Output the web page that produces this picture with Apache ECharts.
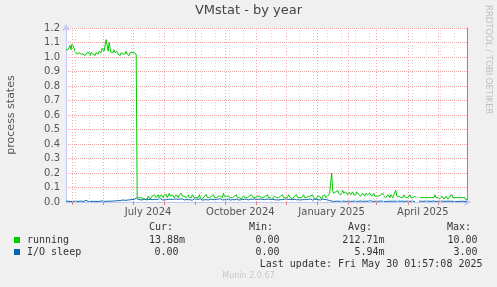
<!DOCTYPE html>
<html><head><meta charset="utf-8">
<script src="https://cdn.jsdelivr.net/npm/echarts@6/dist/echarts.min.js"></script>
<style>html,body{margin:0;padding:0;background:#f0f0f0;}#c{width:497px;height:287px;}</style>
</head><body><div id="c"></div>
<script>
// ---------- data ----------
const rangeStart = '2024-04-25T01:57:08';
const rangeEnd = '2025-05-30T01:57:08';
const sampleStepDays = 1; // one sample per day from rangeStart

// running (process states), one value per day
const runningValues = [
  1.05,1.04,1.05,1.04,1.08,1.05,1.09,1.08,1.06,1.04,
  1.03,1.02,1.02,1.03,1.02,1.02,1.01,1.02,1.02,1.01,
  1.02,1.03,1.02,1.03,1.01,1.03,1.04,1.02,1.03,1.01,
  1.03,1.04,1.02,1.04,1.05,1.03,1.06,1.07,1.04,1.05,
  1.12,1.08,1.04,1.10,1.06,1.03,1.02,1.03,1.05,1.03,
  1.02,1.04,1.02,1.03,1.01,1.03,1.04,1.02,1.03,1.02,
  1.04,1.02,1.03,1.01,1.03,1.02,1.03,1.02,1.03,1.02,
  1.02,
  .03,.02,.03,.02,.03,.04,.02,.03,.02,.03,
  .02,.04,.03,.02,.03,.04,.03,.05,.04,.03,
  .04,.05,.03,.04,.05,.04,.03,.05,.04,.05,
  .03,.04,.06,.04,.03,.05,.04,.03,.04,.05,
  .04,.03,.05,.04,.06,.04,.03,.04,.05,.03,
  .04,.05,.03,.04,.03,.05,.04,.03,.04,.03,
  .04,.03,.05,.03,.04,.02,.03,.04,.03,.05,
  .03,.04,.03,.02,.04,.03,.05,.03,.04,.03,
  .02,.04,.03,.04,.05,.03,.06,.04,.03,.04,
  .03,.04,.05,.03,.04,.03,.02,.04,.03,.05,
  .03,.04,.03,.04,.02,.03,.04,.05,.03,.04,
  .03,.02,.04,.03,.05,.04,.03,.04,.03,.02,
  .04,.03,.04,.05,.03,.04,.03,.02,.04,.03,
  .05,.03,.04,.03,.04,.02,.03,.04,.05,.03,
  .04,.03,.02,.04,.03,.05,.03,.04,.03,.04,
  .03,.05,.04,.03,.04,.02,.03,.04,.03,.05,
  .03,.04,.03,.02,.03,.04,.05,.03,.04,.03,
  .02,.04,.03,.04,.03,.05,.03,.04,.02,.03,
  .04,.03,.04,.03,.02,.04,.03,.05,.03,.04,
  .04,.05,.06,.07,.20,.08,.06,.05,.07,.06,
  .08,.06,.07,.05,.06,.08,.06,.05,.07,.06,
  .05,.07,.06,.05,.06,.07,.05,.06,.05,.07,
  .06,.05,.06,.04,.05,.06,.05,.04,.06,.05,
  .05,.04,.06,.05,.04,.05,.06,.04,.05,.04,
  .05,.04,.03,.05,.04,.06,.04,.05,.03,.04,
  .05,.04,.03,.05,.04,.03,.05,.04,.08,.04,
  .03,.04,.05,.03,.04,.03,.05,.04,.03,.04,
  .03,.04,.05,.03,.04,.03,.02,.04,.03,null,
  null,null,.03,.04,.03,.02,.03,.04,.03,.02,
  .03,.04,.03,.02,.03,.04,.03,.05,.03,.02,
  .03,.04,.02,.03,.04,.03,.02,.03,.04,.03,
  .02,.03,.04,.03,.05,.03,.02,.03,.04,.03,
  .02,.03,.04,.03,.02,.03,.04,.03,.02,.014
];

// I/O sleep, one value per day
const ioSleepValues = [
  .005,.004,.006,.005,.003,.005,.004,.006,.005,.004,
  .005,.003,.004,.005,.006,.004,.005,.003,.004,.005,
  .012,.006,.004,.005,.003,.004,.005,.006,.004,.005,
  .004,.005,.003,.006,.005,.004,.008,.005,.004,.006,
  .005,.004,.006,.009,.005,.004,.006,.005,.007,.006,
  .008,.006,.01,.012,.008,.01,.014,.01,.012,.016,
  .012,.018,.014,.02,.015,.012,.018,.022,.016,.02,
  .028,.022,.018,.02,.016,.019,.014,.018,.022,.017,
  .015,.02,.017,.013,.018,.021,.016,.014,.019,.022,
  .017,.013,.02,.016,.024,.018,.015,.019,.014,.02,
  .016,.022,.018,.014,.019,.023,.017,.015,.02,.016,
  .021,.015,.018,.013,.02,.017,.022,.016,.014,.019,
  .018,.024,.016,.02,.015,.019,.013,.018,.021,.016,
  .02,.014,.018,.016,.022,.017,.013,.019,.015,.021,
  .016,.019,.014,.018,.02,.015,.017,.022,.016,.013,
  .018,.015,.02,.016,.023,.017,.014,.019,.016,.02,
  .015,.018,.021,.016,.013,.019,.017,.022,.015,.018,
  .02,.016,.014,.018,.015,.021,.017,.013,.019,.016,
  .018,.022,.015,.017,.02,.014,.018,.016,.021,.015,
  .017,.013,.019,.016,.02,.015,.018,.022,.016,.014,
  .019,.016,.02,.015,.017,.013,.018,.021,.016,.019,
  .015,.018,.014,.02,.016,.022,.017,.015,.019,.016,
  .02,.015,.018,.013,.017,.021,.016,.014,.019,.017,
  .015,.019,.016,.02,.014,.018,.016,.013,.017,.02,
  .016,.014,.018,.015,.021,.017,.013,.016,.019,.015,
  .017,.02,.015,.018,.014,.016,.019,.015,.017,.013,
  .016,.014,.012,.01,.008,.006,.005,.006,.004,.005,
  .006,.004,.005,.007,.004,.005,.006,.004,.005,.006,
  .004,.005,.007,.005,.004,.006,.005,.004,.006,.005,
  .004,.006,.005,.004,.007,.005,.004,.005,.006,.004,
  .005,.004,.006,.005,.008,.005,.004,.006,.005,.004,
  .006,.005,.004,.005,.007,.004,.005,.006,.004,.005,
  .004,.006,.005,.004,.005,.007,.005,.004,.006,.005,
  .004,.005,.006,.004,.005,.004,.006,.005,.004,.005,
  .006,.004,.005,.007,.005,.004,.005,.006,.004,null,
  null,null,.005,.004,.006,.005,.004,.005,.006,.004,
  .005,.004,.006,.005,.004,.005,.007,.004,.005,.006,
  .004,.005,.006,.004,.005,.004,.006,.005,.004,.005,
  .006,.004,.005,.004,.006,.005,.004,.005,.004,.006,
  .004,.005,.004,.006,.005,.004,.005,.004,.003,.004,0
];

// axis: month starts (major grid), bi-weekly minor grid, month labels
const monthStarts = ['2024-05-01','2024-06-01','2024-07-01','2024-08-01','2024-09-01','2024-10-01',
  '2024-11-01','2024-12-01','2025-01-01','2025-02-01','2025-03-01','2025-04-01','2025-05-01'];
const minorGridStart = '2024-05-04';
const minorGridStepDays = 14;
const tickLabelDates = ['2024-07-16','2024-10-16','2025-01-15','2025-04-16'];
const tickLabels = ['July 2024','October 2024','January 2025','April 2025'];
const yTicks = ['0.0','0.1','0.2','0.3','0.4','0.5','0.6','0.7','0.8','0.9','1.0','1.1','1.2'];

// legend table
const seriesNames = ['running','I/O sleep'];
const curValues = ['13.88m','0.00'];
const minValues = ['0.00','0.00'];
const avgValues = ['212.71m','5.94m'];
const maxValues = ['10.00','3.00'];
const lastUpdate = 'Last update: Fri May 30 01:57:08 2025';

// ---------- build ----------
const DAY = 86400000;
const t0 = new Date(rangeStart).getTime();
const t1 = new Date(rangeEnd).getTime();
const d = s => new Date(s + 'T00:00:00').getTime();
const toPairs = arr => arr.map((v, i) => [t0 + i * sampleStepDays * DAY, v]);

const minorDates = [];
for (let t = d(minorGridStart); t < t1; t += minorGridStepDays * DAY) {
  const ok = !monthStarts.some(m => Math.abs(d(m) - t) < 2 * DAY);
  if (ok) minorDates.push(t);
}
const labelMap = {};
tickLabelDates.forEach((s, i) => { labelMap[d(s)] = tickLabels[i]; });

const GREEN = '#00cc00', BLUE = '#0066b3';
const MAJ = '#eca4a4', MIN = '#d8d8d8';
const AXIS = '#c4c8f4';
const FONT = 'DejaVu Sans';

const chart = echarts.init(document.getElementById('c'), null, {renderer: 'canvas'});

const graphics = [];
graphics.push({type:'text', left:'center', top: 4, style:{text:'VMstat - by year', font:'13px "DejaVu Sans"', fill:'#444'}});
graphics.push({type:'text', x: 6, y: 115, rotation: Math.PI/2, style:{text:'process states', font:'11px "DejaVu Sans"', fill:'#555', align:'center', verticalAlign:'top'}});
graphics.push({type:'text', x: 493, y: 5, rotation: -Math.PI/2, style:{text:'RRDTOOL / TOBI OETIKER', font:'8.5px "DejaVu Sans"', fill:'#c0c0c0', align:'left', verticalAlign:'top'}});
const hdr = [['Cur:',149],['Min:',249],['Avg:',348],['Max:',447]];
hdr.forEach(h => graphics.push({type:'text', x:h[1], y:227.5, style:{text:h[0], font:'10px "DejaVu Sans Mono"', fill:'#333', verticalAlign:'middle'}}));
const colors = [GREEN, BLUE];
seriesNames.forEach((n, i) => {
  const y = 240 + i * 12;
  graphics.push({type:'rect', shape:{x:14, y:y-3, width:6, height:6}, style:{fill:colors[i]}});
  graphics.push({type:'text', x:27, y:y, style:{text:n, font:'10px "DejaVu Sans Mono"', fill:'#333', verticalAlign:'middle'}});
  graphics.push({type:'text', x:i===0?185:178.5, y:y, style:{text:curValues[i], font:'10px "DejaVu Sans Mono"', fill:'#333', verticalAlign:'middle', align:'right'}});
  graphics.push({type:'text', x:279.5, y:y, style:{text:minValues[i], font:'10px "DejaVu Sans Mono"', fill:'#333', verticalAlign:'middle', align:'right'}});
  graphics.push({type:'text', x:384.5, y:y, style:{text:avgValues[i], font:'10px "DejaVu Sans Mono"', fill:'#333', verticalAlign:'middle', align:'right'}});
  graphics.push({type:'text', x:477.5, y:y, style:{text:maxValues[i], font:'10px "DejaVu Sans Mono"', fill:'#333', verticalAlign:'middle', align:'right'}});
});
graphics.push({type:'text', x:482.5, y:264, style:{text:lastUpdate, font:'10px "DejaVu Sans Mono"', fill:'#333', verticalAlign:'middle', align:'right'}});
graphics.push({type:'text', x:248.5, y:276, style:{text:'Munin 2.0.67', font:'8px "DejaVu Sans"', fill:'#c8c8c8', verticalAlign:'middle', align:'center'}});

const option = {
  animation: false,
  backgroundColor: '#f0f0f0',
  grid: {left: 66, right: 30, top: 28, bottom: 85, show: true, backgroundColor: '#ffffff', borderWidth: 0},
  xAxis: {
    type: 'value', min: t0, max: t1,
    axisLine: {show: true, lineStyle: {color: AXIS, width: 1}, symbol: ['none','arrow'], symbolSize: [6, 7], symbolOffset: [0, 4]},
    axisTick: {show: true, customValues: monthStarts.map(d), length: 3, lineStyle: {color: '#e08080'}},
    axisLabel: {show: true, customValues: tickLabelDates.map(d), formatter: v => labelMap[v] || '', color: '#555', fontSize: 10, fontFamily: FONT, margin: 5},
    splitLine: {show: false}
  },
  yAxis: [{
    type: 'value', min: 0, max: 1.2, interval: 0.1,
    axisLine: {show: true, lineStyle: {color: AXIS, width: 1}, symbol: ['none','arrow'], symbolSize: [6, 7], symbolOffset: [0, 4]},
    axisTick: {show: false},
    axisLabel: {formatter: v => yTicks[Math.round(v * 10)], color: '#555', fontSize: 10, fontFamily: FONT, margin: 6},
    splitLine: {show: true, lineStyle: {color: MAJ, type: [1, 1], width: 1}}
  }, {
    type: 'value', min: 0, max: 1.2, interval: 0.1, position: 'right',
    axisLine: {show: true, lineStyle: {color: '#8c8c8c', width: 1}},
    axisTick: {show: false}, axisLabel: {show: false}, splitLine: {show: false}
  }],
  series: [
    {
      name: 'grid', type: 'line', data: [], z: 1, silent: true,
      markLine: {
        silent: true, symbol: ['none','none'], label: {show: false}, animation: false,
        data: minorDates.map(t => ({xAxis: t, lineStyle: {color: MIN, type: [1, 2], width: 1}}))
          .concat(monthStarts.map(s => ({xAxis: d(s), lineStyle: {color: MAJ, type: [1, 2], width: 1}})))
      }
    },
    {name: seriesNames[0], type: 'line', data: toPairs(runningValues), showSymbol: false, connectNulls: false,
      lineStyle: {color: GREEN, width: 1}, itemStyle: {color: GREEN}, z: 3},
    {name: seriesNames[1], type: 'line', data: toPairs(ioSleepValues), showSymbol: false, connectNulls: false,
      lineStyle: {color: BLUE, width: 1}, itemStyle: {color: BLUE}, z: 4}
  ],
  graphic: graphics
};
chart.setOption(option);
</script></body></html>
